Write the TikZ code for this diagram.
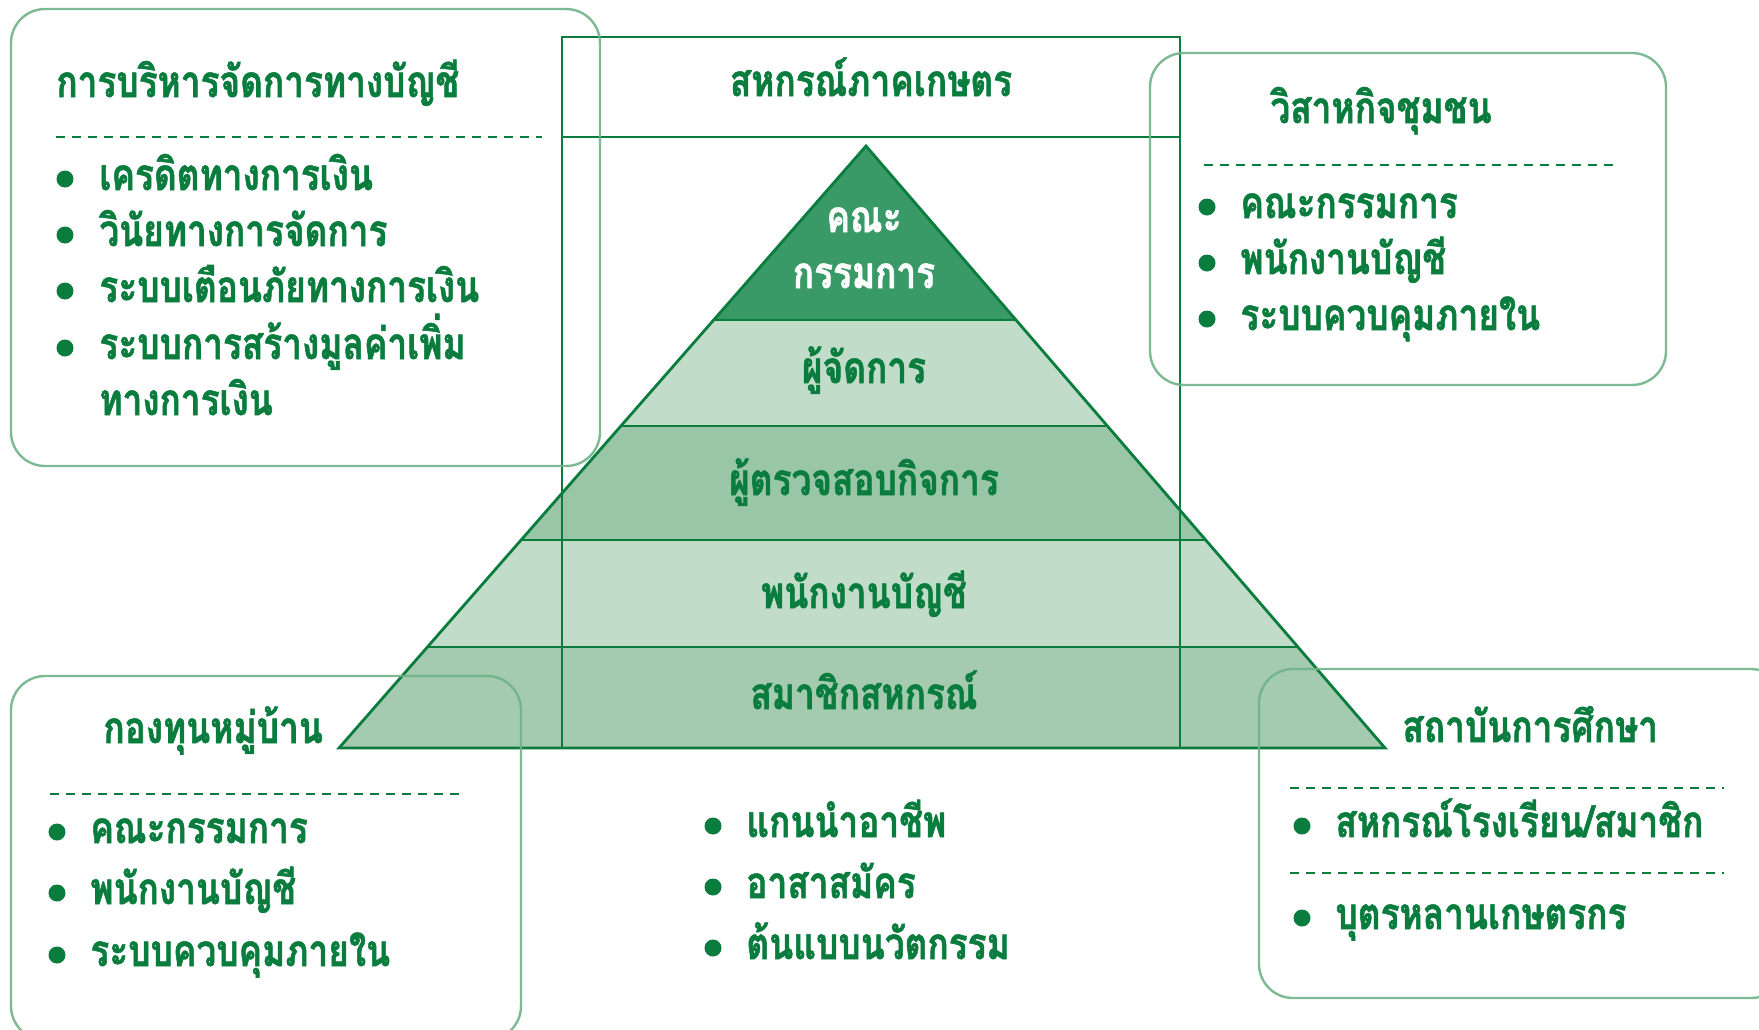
\documentclass[tikz,border=0pt]{standalone}
\usepackage{fontspec}
\newfontfamily\thai[Script=Thai,FakeStretch=0.8,FakeBold=1.2]{Loma}
\usetikzlibrary{calc}
\definecolor{tgreen}{HTML}{0A7D3E}
\definecolor{topfill}{HTML}{3A9A67}
\definecolor{lightfill}{HTML}{C1DCC9}
\definecolor{midfill}{HTML}{9AC6A8}
\definecolor{basefill}{HTML}{A4CAB0}
\definecolor{boxline}{HTML}{6FB387}
\tikzset{
  txt/.style={inner sep=0pt, anchor=base west, text=tgreen, font=\thai\bfseries\fontsize{22}{26}\selectfont},
  ctxt/.style={txt, anchor=base},
  wtxt/.style={ctxt, text=white},
  roundbox/.style={draw=boxline, line width=1.2pt, rounded corners=17pt, draw opacity=0.9},
  dashline/.style={draw=tgreen, line width=0.9pt, dash pattern=on 4.5pt off 3.5pt},
  bulletdot/.style={circle, fill=tgreen, inner sep=0pt, minimum size=8.5pt},
  layerline/.style={draw=tgreen, line width=1.4pt},
}
\begin{document}
\begin{tikzpicture}[x=0.5pt,y=-0.5pt]
\useasboundingbox (0,0) rectangle (1759,1029);
% pyramid
\coordinate (A) at (866,146);
\coordinate (L) at (339,748);
\coordinate (R) at (1385,748);
\coordinate (L1) at ($(A)!0.2890!(L)$); \coordinate (R1) at ($(A)!0.2890!(R)$);
\coordinate (L2) at ($(A)!0.4651!(L)$); \coordinate (R2) at ($(A)!0.4651!(R)$);
\coordinate (L3) at ($(A)!0.6545!(L)$); \coordinate (R3) at ($(A)!0.6545!(R)$);
\coordinate (L4) at ($(A)!0.8322!(L)$); \coordinate (R4) at ($(A)!0.8322!(R)$);
\fill[topfill] (A) -- (L1) -- (R1) -- cycle;
\fill[lightfill] (L1) -- (L2) -- (R2) -- (R1) -- cycle;
\fill[midfill] (L2) -- (L3) -- (R3) -- (R2) -- cycle;
\fill[lightfill] (L3) -- (L4) -- (R4) -- (R3) -- cycle;
\fill[basefill] (L4) -- (L) -- (R) -- (R4) -- cycle;
\draw[layerline, line join=miter] (A) -- (L) -- (R) -- cycle;
\draw[layerline] (L1) -- (R1);
\draw[layerline] (L2) -- (R2);
\draw[layerline] (L3) -- (R3);
\draw[layerline] (L4) -- (R4);
% frame
\draw[layerline] (562,37) rectangle (1180,748);
\draw[layerline] (562,137) -- (1180,137);
\node[ctxt] (coop) at (871,96) {สหกรณ์ภาคเกษตร};
% pyramid labels
\node[wtxt] (p1a) at (864,232) {คณะ};
\node[wtxt] (p1b) at (864,288) {กรรมการ};
\node[ctxt] (p2) at (864,383) {ผู้จัดการ};
\node[ctxt] (p3) at (864,495) {ผู้ตรวจสอบกิจการ};
\node[ctxt] (p4) at (864,608) {พนักงานบัญชี};
\node[ctxt] (p5) at (864,709) {สมาชิกสหกรณ์};
% top-left box
\draw[roundbox] (11,9) rectangle (600,466);
\node[txt] (tlt) at (56,97) {การบริหารจัดการทางบัญชี};
\draw[dashline] (56,137) -- (542,137);
\node[bulletdot] (tlb1) at (65,179) {};
\node[txt] (tl1) at (99,190) {เครดิตทางการเงิน};
\node[bulletdot] (tlb2) at (65,235) {};
\node[txt] (tl2) at (99,246) {วินัยทางการจัดการ};
\node[bulletdot] (tlb3) at (65,291) {};
\node[txt] (tl3) at (99,302) {ระบบเตือนภัยทางการเงิน};
\node[bulletdot] (tlb4) at (65,348) {};
\node[txt] (tl4) at (99,359) {ระบบการสร้างมูลค่าเพิ่ม};
\node[txt] (tl5) at (99,415) {ทางการเงิน};
% top-right box
\draw[roundbox] (1150,53) rectangle (1666,385);
\node[txt] (trt) at (1270,123) {วิสาหกิจชุมชน};
\draw[dashline] (1204,165) -- (1619,165);
\node[bulletdot] (trb1) at (1207,207) {};
\node[txt] (tr1) at (1240,218) {คณะกรรมการ};
\node[bulletdot] (trb2) at (1207,263) {};
\node[txt] (tr2) at (1240,274) {พนักงานบัญชี};
\node[bulletdot] (trb3) at (1207,319) {};
\node[txt] (tr3) at (1240,330) {ระบบควบคุมภายใน};
% bottom-left box
\draw[roundbox] (11,676) rectangle (521,1040);
\node[txt] (blt) at (103,743) {กองทุนหมู่บ้าน};
\draw[dashline] (50,794) -- (462,794);
\node[bulletdot] (blb1) at (57,832) {};
\node[txt] (bl1) at (90,843) {คณะกรรมการ};
\node[bulletdot] (blb2) at (57,893) {};
\node[txt] (bl2) at (90,904) {พนักงานบัญชี};
\node[bulletdot] (blb3) at (57,955) {};
\node[txt] (bl3) at (90,966) {ระบบควบคุมภายใน};
% middle bullets
\node[bulletdot] (mb1) at (713,826) {};
\node[txt] (m1) at (746,837) {แกนนำอาชีพ};
\node[bulletdot] (mb2) at (713,887) {};
\node[txt] (m2) at (746,898) {อาสาสมัคร};
\node[bulletdot] (mb3) at (713,948) {};
\node[txt] (m3) at (746,959) {ต้นแบบนวัตกรรม};
% bottom-right box
\draw[roundbox] (1259,669) rectangle (1785,998);
\node[txt] (brt) at (1402,742) {สถาบันการศึกษา};
\draw[dashline] (1290,788) -- (1724,788);
\node[bulletdot] (brb1) at (1302,826) {};
\node[txt] (br1) at (1335,837) {สหกรณ์โรงเรียน/สมาชิก};
\draw[dashline] (1290,873) -- (1724,873);
\node[bulletdot] (brb2) at (1302,918) {};
\node[txt] (br2) at (1335,929) {บุตรหลานเกษตรกร};
\end{tikzpicture}
\end{document}
